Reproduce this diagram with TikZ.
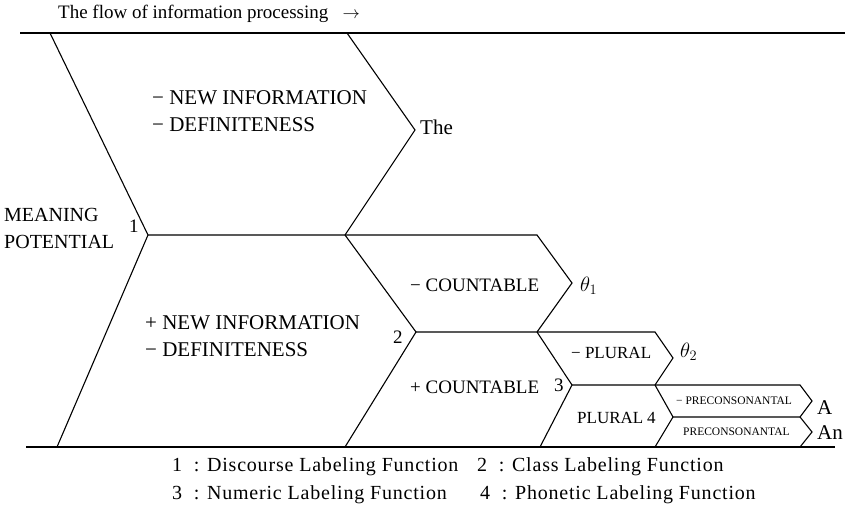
\documentclass[tikz,border=0pt]{standalone}
\usepackage{fontspec}
\setmainfont{Liberation Serif}
\newfontfamily\spacedfont[LetterSpace=4]{Liberation Serif}
\begin{document}
\begin{tikzpicture}[x=1pt,y=-1pt,
  ln/.style={line width=1.1pt,line join=miter},
  big/.style={font=\fontsize{21}{23}\selectfont,anchor=west,inner sep=0pt},
  mid/.style={font=\fontsize{19}{21}\selectfont,anchor=west,inner sep=0pt},
  mp/.style={font=\fontsize{20}{22}\selectfont,anchor=west,inner sep=0pt},
  pl/.style={font=\fontsize{17}{19}\selectfont,anchor=west,inner sep=0pt},
  sm/.style={font=\fontsize{11.5}{13}\selectfont,anchor=west,inner sep=0pt},
  lg/.style={font=\spacedfont\fontsize{20}{22}\selectfont,anchor=west,inner sep=0pt}]
\useasboundingbox (0,0) rectangle (847,513);
% rules
\draw[ln] (20,33) -- (845,33);
\draw[ln] (26,447) -- (835,447);
% main shapes
\draw[ln] (50,33) coordinate (tl) -- (148,235) coordinate (one) -- (57,447);
\draw[ln] (347,33) -- (415,130) coordinate (theapex) -- (345,235) coordinate (c1);
\draw[ln] (one) -- (537,235) -- (572,283) coordinate (t1apex) -- (537,332) coordinate (c2) -- (416,332) coordinate (two);
\draw[ln] (c1) -- (two) -- (345,447);
\draw[ln] (c2) -- (655,332) -- (673,358) coordinate (t2apex) -- (655,385) coordinate (c3);
\draw[ln] (c2) -- (572,385) coordinate (three) -- (540,447);
\draw[ln] (three) -- (800,385) -- (812,401) coordinate (aapex) -- (800,417) coordinate (c4) -- (673,417) coordinate (four);
\draw[ln] (c3) -- (four) -- (655,447);
\draw[ln] (c4) -- (812,432) coordinate (anapex) -- (800,447);
% texts
\node[mid] (title) at (58,14) {The flow of information processing \ \ $\rightarrow$};
\node[big] (n1) at (152,98) {− NEW INFORMATION};
\node[big] (d1) at (152,125) {− DEFINITENESS};
\node[big] (the) at (420,127) {The};
\node[mp] (mp1) at (4,215) {MEANING};
\node[mp] (mp2) at (4,242) {POTENTIAL};
\node[mid] (l1) at (129,226) {1};
\node[big] (n2) at (145,323) {+ NEW INFORMATION};
\node[big] (d2) at (145,350) {− DEFINITENESS};
\node[mid] (cnt1) at (410,285) {− COUNTABLE};
\node[big] (th1) at (580,286) {$\theta_1$};
\node[mid] (l2) at (393,337) {2};
\node[mid] (cnt2) at (410,387) {+ COUNTABLE};
\node[mid] (l3) at (554,385) {3};
\node[pl] (pl1) at (571,353) {− PLURAL};
\node[big] (th2) at (680,352) {$\theta_2$};
\node[pl] (pl2) at (577,418) {PLURAL};
\node[pl] (l4) at (647,418) {4};
\node[sm] (pc1) at (676,401) {− PRECONSONANTAL};
\node[sm] (pc2) at (683,432) {PRECONSONANTAL};
\node[big] (a) at (817,408) {A};
\node[big] (an) at (817,433) {An};
% legend
\node[lg] (lg1) at (172,467) {1 \ : Discourse Labeling Function};
\node[lg] (lg2) at (477,467) {2 \ : Class Labeling Function};
\node[lg] (lg3) at (172,495) {3 \ : Numeric Labeling Function};
\node[lg] (lg4) at (480,495) {4 \ : Phonetic Labeling Function};
\end{tikzpicture}
\end{document}
